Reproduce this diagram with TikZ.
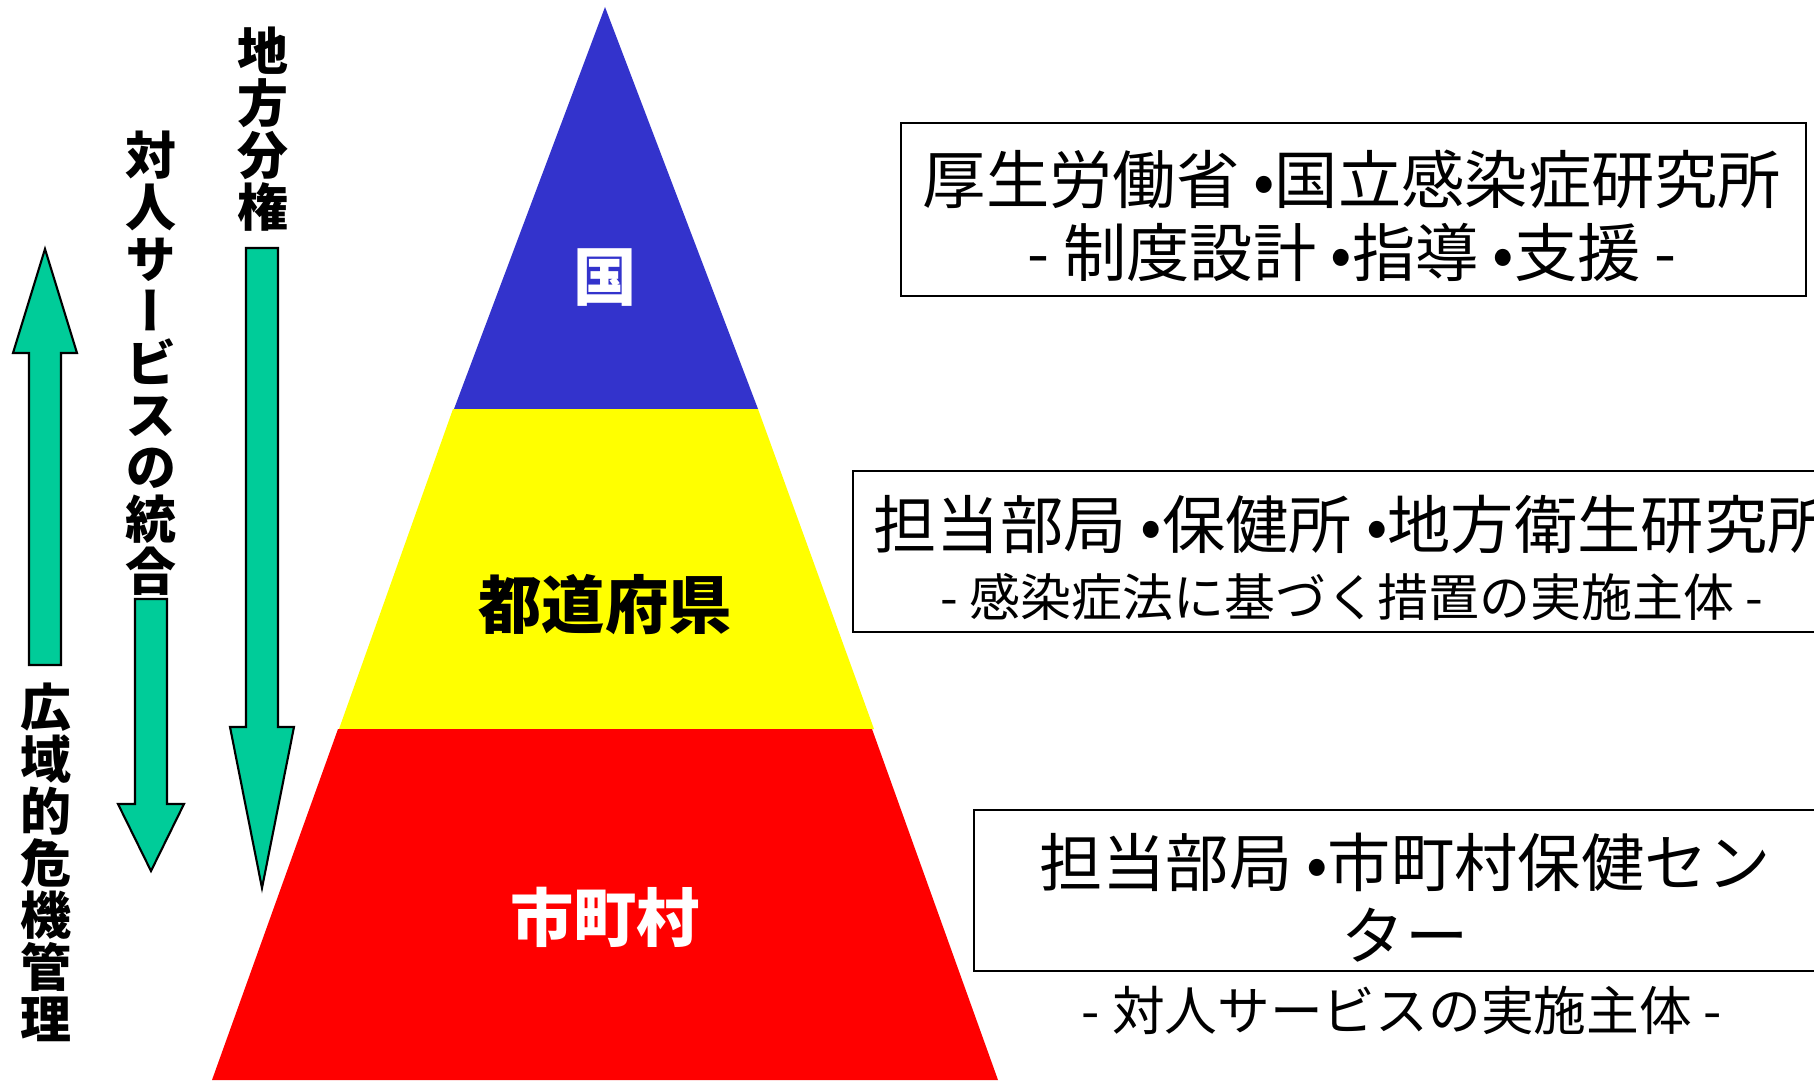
\documentclass[tikz,border=0pt]{standalone}
\usepackage{fontspec}
\newfontfamily\jpfont{Noto Sans CJK JP}
\newfontfamily\jptate[RawFeature=+vert]{Noto Sans CJK JP}
\definecolor{kuniblau}{RGB}{51,51,204}
\definecolor{kengelb}{RGB}{255,255,0}
\definecolor{shirot}{RGB}{255,0,0}
\definecolor{pfeilgruen}{RGB}{0,204,153}

\begin{document}
\begin{tikzpicture}
		\tikzstyle{every node} = [font = \jpfont, inner sep = 0pt]
		\tikzstyle{stufe} = [font = \jpfont\bfseries\fontsize{18pt}{22pt}\selectfont]
		\tikzstyle{kasten} = [draw = black, line width = 0.6pt]
		\tikzstyle{kastentext} = [align = center, font = \jpfont\fontsize{18pt}{20.8pt}\selectfont]
		\tikzstyle{senkrecht} = [align = center, font = \jptate\bfseries\fontsize{14.5pt}{14.8pt}\selectfont]
		\tikzstyle{pfeil} = [draw = black, fill = pfeilgruen, line width = 0.6pt]

\useasboundingbox (0,0) rectangle (18.14,-10.8);
\fill[white] (0,0) rectangle (18.14,-10.8);
\clip (0,0) rectangle (18.14,-10.8);

% Pyramide
\fill[kuniblau]
	(6.05,-0.07) -- (4.54,-4.09) -- (7.58,-4.09) -- cycle;
\fill[kengelb]
	(4.53,-4.09) -- (3.39,-7.29) -- (8.74,-7.29) -- (7.58,-4.09) -- cycle;
\fill[shirot]
	(3.38,-7.29) -- (2.12,-10.80) -- (9.98,-10.80) -- (8.72,-7.29) -- cycle;

\node[stufe, text = white] (kuni) at (6.05,-2.78) {国};
\node[stufe, text = black] (ken) at (6.05,-6.05) {都道府県};
\node[stufe, text = white] (shi) at (6.05,-9.17) {市町村};

% Pfeile
\draw[pfeil]
	(0.29,-6.65) -- ++(0,3.12) -- ++(-0.16,0) -- ++(0.32,1.04) -- ++(0.32,-1.04) -- ++(-0.16,0) -- ++(0,-3.12) -- cycle;
\draw[pfeil]
	(1.35,-5.99) -- ++(0,-2.05) -- ++(-0.17,0) -- ++(0.33,-0.67) -- ++(0.33,0.67) -- ++(-0.17,0) -- ++(0,2.05) -- cycle;
\draw[pfeil]
	(2.46,-2.48) -- ++(0,-4.79) -- ++(-0.16,0) -- ++(0.32,-1.61) -- ++(0.32,1.61) -- ++(-0.16,0) -- ++(0,4.79) -- cycle;

\node[senkrecht] (bunken) at (2.63,-1.29) {地\\方\\分\\権};
\node[senkrecht] (taijin) at (1.51,-3.63) {対\\人\\サ\\ー\\ビ\\ス\\の\\統\\合};
\node[senkrecht] (kiki) at (0.46,-8.62) {広\\域\\的\\危\\機\\管\\理};

% Kaesten
\node[kasten, minimum width = 9.05cm, minimum height = 1.73cm] (mhlw) at (13.535,-2.095) {};
\node[kasten, minimum width = 9.98cm, minimum height = 1.61cm] (todofuken) at (13.52,-5.515) {};
\node[kasten, minimum width = 8.62cm, minimum height = 1.61cm] (shichoson) at (14.05,-8.905) {};

\node[kastentext] (mhlwtext) at (13.52,-2.16)
	{厚生労働省 •国立感染症研究所\\- 制度設計 •指導 •支援 -};
\node[kastentext] (todofukentext) at (13.52,-5.58)
	{担当部局 •保健所 •地方衛生研究所\\[-1.5pt]{\fontsize{14.5pt}{16pt}\selectfont - 感染症法に基づく措置の実施主体 -}};
\node[kastentext] (shichosontext) at (14.05,-8.98)
	{担当部局 •市町村保健セン\\ター};
\node[font = \jpfont\fontsize{15pt}{17pt}\selectfont] (taijinsvc) at (14.02,-10.10) {- 対人サービスの実施主体 -};

	\end{tikzpicture}
\end{document}
